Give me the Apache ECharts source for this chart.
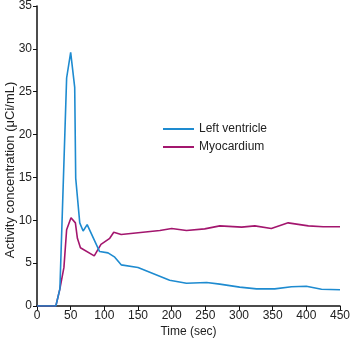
<!DOCTYPE html>
<html>
<head>
<meta charset="utf-8">
<script src="https://cdn.jsdelivr.net/npm/echarts@6/dist/echarts.min.js"></script>
<style>html,body{margin:0;padding:0;background:#fff;}#c{width:351px;height:342px;}</style>
</head>
<body>
<div id="c"></div>
<script>
var seriesNames = ['Left ventricle', 'Myocardium'];
var lvTime = [0, 28, 34, 44, 50, 56, 57.5, 63.5, 68.5, 74.5, 93, 105.5, 115.5, 125, 150, 197, 222, 252, 271.5, 301, 326, 353, 378, 400, 422.5, 450];
var lvValue = [0, 0, 2.0, 26.6, 29.6, 25.5, 14.9, 9.7, 8.75, 9.5, 6.35, 6.2, 5.7, 4.8, 4.5, 3.0, 2.65, 2.75, 2.55, 2.2, 2.0, 2.0, 2.25, 2.3, 1.95, 1.9];
var myoTime = [0, 28, 34, 40, 44, 50.5, 57, 60, 64.5, 85, 95, 108, 114, 125, 182.5, 200, 222, 249, 271.5, 304, 323.5, 348, 373, 403, 425, 450];
var myoValue = [0, 0, 2.0, 4.5, 8.9, 10.3, 9.7, 7.9, 6.8, 5.85, 7.2, 7.9, 8.6, 8.35, 8.8, 9.05, 8.8, 9.0, 9.35, 9.2, 9.35, 9.05, 9.7, 9.35, 9.25, 9.25];
var xTicks = [0, 50, 100, 150, 200, 250, 300, 350, 400, 450];
var yTicks = [0, 5, 10, 15, 20, 25, 30, 35];

function pairs(xs, ys) { return xs.map(function (x, i) { return [x, ys[i]]; }); }

var chart = echarts.init(document.getElementById('c'), null, {renderer: 'canvas'});
var font = 'Liberation Sans, Arial, Helvetica, sans-serif';
chart.setOption({
  animation: false,
  textStyle: {fontFamily: font},
  grid: {left: 37, right: 11, top: 6, bottom: 36, containLabel: false, outerBoundsMode: 'none'},
  legend: {
    orient: 'vertical', left: 163, top: 123, itemWidth: 31, itemHeight: 2, itemGap: 6,
    icon: 'rect', padding: 0,
    textStyle: {fontSize: 12, color: '#222', fontFamily: font},
    data: seriesNames
  },
  xAxis: {
    type: 'value', min: xTicks[0], max: xTicks[xTicks.length - 1], interval: 50,
    name: 'Time (sec)', nameLocation: 'middle', nameGap: 20, nameMoveOverlap: false,
    nameTextStyle: {fontSize: 12, color: '#222', fontFamily: font},
    axisLine: {lineStyle: {color: '#111', width: 1.5}},
    axisTick: {show: true, length: 4, lineStyle: {color: '#111'}},
    axisLabel: {fontSize: 12, color: '#222', margin: 4, fontFamily: font},
    splitLine: {show: false}
  },
  yAxis: {
    type: 'value', min: yTicks[0], max: yTicks[yTicks.length - 1], interval: 5,
    name: 'Activity concentration (\u03bcCi/mL)', nameLocation: 'middle', nameGap: 20, nameMoveOverlap: false,
    nameTextStyle: {fontSize: 13, color: '#222', fontFamily: font, padding: [0, 28, 0, 0]},
    axisLine: {show: true, lineStyle: {color: '#111', width: 1.5}},
    axisTick: {show: true, length: 4, lineStyle: {color: '#111'}},
    axisLabel: {fontSize: 12, color: '#222', margin: 5, fontFamily: font},
    splitLine: {show: false}
  },
  series: [
    {name: seriesNames[0], type: 'line', showSymbol: false, symbol: 'none', color: '#1e8bd0',
     lineStyle: {width: 1.6, color: '#1e8bd0'}, data: pairs(lvTime, lvValue), z: 3},
    {name: seriesNames[1], type: 'line', showSymbol: false, symbol: 'none', color: '#a3166e',
     lineStyle: {width: 1.6, color: '#a3166e'}, data: pairs(myoTime, myoValue), z: 2}
  ]
});
</script>
</body>
</html>
